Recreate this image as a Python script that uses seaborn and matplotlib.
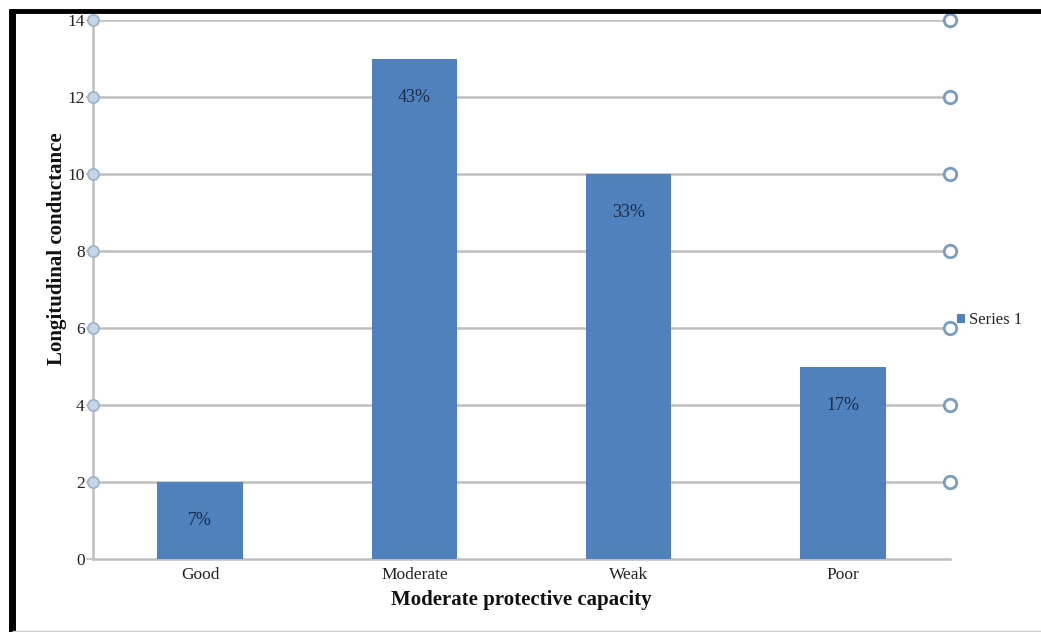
import matplotlib
matplotlib.use("Agg")
import matplotlib.pyplot as plt
import matplotlib.transforms as mtransforms
from matplotlib.lines import Line2D
import seaborn as sns
import pandas as pd

categories = ["Good", "Moderate", "Weak", "Poor"]
values = [2, 13, 10, 5]
pct_labels = ["7%", "43%", "33%", "17%"]
yticks = [0, 2, 4, 6, 8, 10, 12, 14]
series_name = "Series 1"

sns.set_theme(style="white")
plt.rcParams["font.family"] = ["Liberation Serif", "DejaVu Serif"]

fig = plt.figure(figsize=(10.41, 6.32), dpi=100)
ax = fig.add_axes([93/1041, 1-559/632, (950-93)/1041, (559-20)/632])

df = pd.DataFrame({"cat": categories, "val": values})
bar_color = "#4F81BD"
sns.barplot(data=df, x="cat", y="val", color=bar_color, saturation=1,
            width=0.4, ax=ax, label=series_name, zorder=3, linewidth=0,
            edgecolor=bar_color)

ax.set_ylim(0, 14)
ax.set_yticks(yticks)
ax.set_xlim(-0.5, len(categories) - 0.5)

grid_col = "#BFBFBF"
for y in yticks[1:]:
    ax.axhline(y, color=grid_col, lw=1.8, zorder=1)

for s in ["top", "right"]:
    ax.spines[s].set_visible(False)
for s in ["left", "bottom"]:
    ax.spines[s].set_color(grid_col)
    ax.spines[s].set_linewidth(1.8)

trans = mtransforms.blended_transform_factory(ax.transAxes, ax.transData)
ax.plot([0]*len(yticks[1:]), yticks[1:], "o", transform=trans, ms=8,
        mfc="#C5D6E6", mec="#9DB5CC", mew=1.3, clip_on=False, zorder=5)
ax.plot([1]*len(yticks[1:]), yticks[1:], "o", transform=trans, ms=9,
        mfc="white", mec="#7A9CC0", mew=2, clip_on=False, zorder=5)

ax.tick_params(axis="y", which="both", left=True, length=5, width=1.2,
               color=grid_col, labelsize=12.5, pad=1, labelcolor="#222222")
ax.tick_params(axis="x", bottom=False, labelsize=12.5, pad=0, labelcolor="#222222")

ax.set_xlabel("Moderate protective capacity", fontsize=15, fontweight="bold",
              labelpad=5, color="#111111")
ax.set_ylabel("Longitudinal conductance", fontsize=15, fontweight="bold",
              color="#111111")
ax.yaxis.set_label_coords(-0.03, 0.575)

container = ax.containers[0]
for rect, lab in zip(container.patches, pct_labels):
    ax.annotate(lab, (rect.get_x() + rect.get_width()/2, rect.get_height()),
                xytext=(0, -28), textcoords="offset points", ha="center",
                va="center", fontsize=13, color="#1F2B45", zorder=6)

leg = ax.legend(loc="center left", bbox_to_anchor=(957/1041, 1-320/632),
                bbox_transform=fig.transFigure, frameon=False, fontsize=12,
                handlelength=0.45, handleheight=0.45, handletextpad=0.25,
                borderaxespad=0, borderpad=0)

# frame lines around the figure
fig.add_artist(Line2D([9/1041, 1], [1-11/632, 1-11/632], color="black", lw=3.5,
                      solid_capstyle="butt", transform=fig.transFigure))
fig.add_artist(Line2D([12/1041, 12/1041], [0, 1-9/632], color="black", lw=5,
                      solid_capstyle="butt", transform=fig.transFigure))
fig.add_artist(Line2D([12/1041, 1], [1.5/632, 1.5/632], color="#CCCCCC", lw=1,
                      solid_capstyle="butt", transform=fig.transFigure))

fig.savefig("out.png", dpi=100)
